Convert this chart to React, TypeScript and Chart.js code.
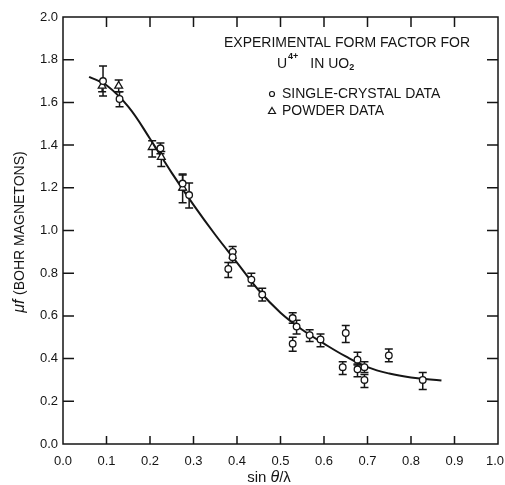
import React, { useEffect, useRef } from "react";
import { Chart, registerables } from "chart.js";

Chart.register(...registerables);

// ---- data ----
const curveX = [0.06, 0.1, 0.15, 0.2, 0.25, 0.3, 0.35, 0.4, 0.45, 0.5, 0.55, 0.6, 0.65, 0.7, 0.75, 0.8, 0.87];
const curveY = [1.72, 1.68, 1.58, 1.43, 1.27, 1.12, 0.98, 0.85, 0.72, 0.615, 0.535, 0.47, 0.41, 0.36, 0.33, 0.312, 0.297];

// single-crystal data (circles)
const crystalX = [0.092, 0.13, 0.224, 0.275, 0.29, 0.38, 0.39, 0.39, 0.433, 0.458, 0.528, 0.537, 0.528, 0.567, 0.592, 0.65, 0.643, 0.677, 0.677, 0.693, 0.693, 0.749, 0.827];
const crystalY = [1.7, 1.616, 1.385, 1.22, 1.166, 0.82, 0.9, 0.875, 0.77, 0.7, 0.59, 0.55, 0.47, 0.51, 0.49, 0.52, 0.36, 0.395, 0.35, 0.36, 0.3, 0.415, 0.3];
const crystalLo = [1.63, 1.58, 1.36, 1.19, 1.105, 0.78, 0.87, 0.85, 0.74, 0.67, 0.565, 0.515, 0.435, 0.48, 0.455, 0.475, 0.325, 0.37, 0.315, 0.335, 0.265, 0.385, 0.255];
const crystalHi = [1.77, 1.65, 1.41, 1.265, 1.222, 0.85, 0.925, 0.9, 0.8, 0.73, 0.615, 0.58, 0.5, 0.535, 0.515, 0.555, 0.385, 0.43, 0.375, 0.385, 0.325, 0.445, 0.335];

// powder data (triangles)
const powderX = [0.09, 0.128, 0.205, 0.226, 0.275];
const powderY = [1.677, 1.677, 1.39, 1.344, 1.2];
const powderLo = [1.65, 1.65, 1.344, 1.3, 1.13];
const powderHi = [1.7, 1.705, 1.42, 1.37, 1.26];

const xTicks = [0, 0.1, 0.2, 0.3, 0.4, 0.5, 0.6, 0.7, 0.8, 0.9, 1.0];
const yTicks = [0, 0.2, 0.4, 0.6, 0.8, 1.0, 1.2, 1.4, 1.6, 1.8, 2.0];

const INK = "#151515";
const FONT = "'Liberation Sans', Arial, sans-serif";

const errorBarPlugin = {
  id: "errorBars",
  beforeDatasetsDraw(chart: any) {
    const { ctx, scales } = chart;
    const xs = scales.x, ys = scales.y;
    ctx.save();
    ctx.strokeStyle = INK;
    ctx.lineWidth = 1.5;
    const draw = (X: number[], L: number[], H: number[]) => {
      for (let i = 0; i < X.length; i++) {
        const px = xs.getPixelForValue(X[i]);
        const pl = ys.getPixelForValue(L[i]);
        const ph = ys.getPixelForValue(H[i]);
        ctx.beginPath();
        ctx.moveTo(px, pl);
        ctx.lineTo(px, ph);
        ctx.moveTo(px - 4, pl);
        ctx.lineTo(px + 4, pl);
        ctx.moveTo(px - 4, ph);
        ctx.lineTo(px + 4, ph);
        ctx.stroke();
      }
    };
    draw(crystalX, crystalLo, crystalHi);
    draw(powderX, powderLo, powderHi);
    ctx.restore();
  },
};

const framePlugin = {
  id: "frame",
  beforeDraw(chart: any) {
    const { ctx } = chart;
    ctx.save();
    ctx.fillStyle = "#ffffff";
    ctx.fillRect(0, 0, chart.width, chart.height);
    ctx.restore();
  },
  afterDraw(chart: any) {
    const { ctx, chartArea: a, scales } = chart;
    ctx.save();
    ctx.strokeStyle = INK;
    ctx.lineWidth = 1.5;
    ctx.strokeRect(a.left, a.top, a.right - a.left, a.bottom - a.top);
    ctx.beginPath();
    scales.x.ticks.forEach((t: any) => {
      const px = scales.x.getPixelForValue(t.value);
      if (Math.abs(px - a.left) < 2 || Math.abs(px - a.right) < 2) return;
      ctx.moveTo(px, a.bottom);
      ctx.lineTo(px, a.bottom - 8);
      ctx.moveTo(px, a.top);
      ctx.lineTo(px, a.top + 10);
    });
    scales.y.ticks.forEach((t: any) => {
      const py = scales.y.getPixelForValue(t.value);
      if (Math.abs(py - a.top) < 2 || Math.abs(py - a.bottom) < 2) return;
      ctx.moveTo(a.left, py);
      ctx.lineTo(a.left + 11, py);
      ctx.moveTo(a.right, py);
      ctx.lineTo(a.right - 11, py);
    });
    ctx.stroke();

    ctx.fillStyle = INK;
    ctx.textBaseline = "middle";

    // x tick labels (drawn from the x scale, last one kept inside the canvas)
    ctx.font = `13px ${FONT}`;
    ctx.textAlign = "center";
    scales.x.ticks.forEach((t: any) => {
      const label = Number(t.value).toFixed(1);
      const w = ctx.measureText(label).width;
      let px = scales.x.getPixelForValue(t.value);
      if (px + w / 2 > chart.width - 1) px = chart.width - 1 - w / 2;
      ctx.fillText(label, px, a.bottom + 17);
    });

    // annotation text
    ctx.font = `14px ${FONT}`;
    ctx.textAlign = "center";
    ctx.fillText("EXPERIMENTAL FORM FACTOR FOR", 347, 43);
    ctx.textAlign = "left";
    let x = 277;
    ctx.fillText("U", x, 64);
    x += ctx.measureText("U").width + 1;
    ctx.font = `bold 9px ${FONT}`;
    ctx.fillText("4+", x, 57);
    x += ctx.measureText("4+").width + 12;
    ctx.font = `14px ${FONT}`;
    ctx.fillText("IN UO", x, 64);
    x += ctx.measureText("IN UO").width;
    ctx.font = `bold 9px ${FONT}`;
    ctx.fillText("2", x, 68);
    ctx.font = `14px ${FONT}`;
    ctx.fillText("SINGLE-CRYSTAL DATA", 282, 94);
    ctx.fillText("POWDER DATA", 282, 111);
    ctx.lineWidth = 1.2;
    ctx.beginPath();
    ctx.arc(272, 94, 2.5, 0, Math.PI * 2);
    ctx.stroke();
    ctx.beginPath();
    ctx.moveTo(272, 107.5);
    ctx.lineTo(275.5, 113.5);
    ctx.lineTo(268.5, 113.5);
    ctx.closePath();
    ctx.stroke();

    // x title: sin θ/λ
    ctx.font = `15px ${FONT}`;
    const p1 = "sin ";
    const p3 = "/λ";
    const w1 = ctx.measureText(p1).width;
    ctx.font = `italic 16px ${FONT}`;
    const w2 = ctx.measureText("θ").width;
    ctx.font = `15px ${FONT}`;
    const w3 = ctx.measureText(p3).width;
    let sx = 269 - (w1 + w2 + w3) / 2;
    ctx.fillText(p1, sx, 478);
    sx += w1;
    ctx.font = `italic 16px ${FONT}`;
    ctx.fillText("θ", sx, 478);
    sx += w2;
    ctx.font = `15px ${FONT}`;
    ctx.fillText(p3, sx, 478);

    // y title: μf (BOHR MAGNETONS)
    ctx.save();
    ctx.translate(20, 232);
    ctx.rotate(-Math.PI / 2);
    ctx.font = `italic 16px ${FONT}`;
    const m1 = ctx.measureText("μf ").width;
    ctx.font = `14px ${FONT}`;
    const m2 = ctx.measureText("(BOHR MAGNETONS)").width;
    let ty = -(m1 + m2) / 2;
    ctx.font = `italic 16px ${FONT}`;
    ctx.fillText("μf ", ty, 0);
    ty += m1;
    ctx.font = `14px ${FONT}`;
    ctx.fillText("(BOHR MAGNETONS)", ty, 0);
    ctx.restore();

    ctx.restore();
  },
};

export default function App() {
  const ref = useRef<HTMLCanvasElement | null>(null);
  useEffect(() => {
    if (!ref.current) return;
    const chart = new Chart(ref.current, {
      type: "scatter",
      data: {
        datasets: [
          {
            type: "line",
            label: "fit",
            data: curveX.map((v, i) => ({ x: v, y: curveY[i] })),
            borderColor: INK,
            borderWidth: 2,
            pointRadius: 0,
            tension: 0.4,
            fill: false,
            order: 3,
          } as any,
          {
            label: "POWDER DATA",
            data: powderX.map((v, i) => ({ x: v, y: powderY[i] })),
            pointStyle: "triangle",
            pointRadius: 4.5,
            borderColor: INK,
            borderWidth: 1.3,
            backgroundColor: "#ffffff",
            order: 2,
          },
          {
            label: "SINGLE-CRYSTAL DATA",
            data: crystalX.map((v, i) => ({ x: v, y: crystalY[i] })),
            pointStyle: "circle",
            pointRadius: 3.3,
            borderColor: INK,
            borderWidth: 1.3,
            backgroundColor: "#ffffff",
            order: 1,
          },
        ],
      },
      options: {
        animation: false,
        responsive: false,
        layout: { padding: { top: 17, right: 7, left: 0, bottom: 0 } },
        plugins: { legend: { display: false }, tooltip: { enabled: false } },
        scales: {
          x: {
            type: "linear",
            min: 0,
            max: 1,
            afterBuildTicks: (s: any) => {
              s.ticks = xTicks.map((v) => ({ value: v }));
            },
            afterFit: (s: any) => {
              s.height = 41;
              s.paddingLeft = 0;
              s.paddingRight = 0;
            },
            ticks: { display: false },
            grid: { display: false, drawTicks: false },
            border: { display: false },
          },
          y: {
            type: "linear",
            min: 0,
            max: 2,
            afterBuildTicks: (s: any) => {
              s.ticks = yTicks.map((v) => ({ value: v }));
            },
            afterFit: (s: any) => {
              s.width = 63;
              s.paddingTop = 0;
              s.paddingBottom = 0;
            },
            ticks: {
              color: INK,
              font: { family: FONT, size: 13 },
              padding: 5,
              callback: (v: any) => Number(v).toFixed(1),
            },
            grid: { display: false, drawTicks: false },
            border: { display: false },
          },
        },
      },
      plugins: [errorBarPlugin, framePlugin],
    });
    return () => chart.destroy();
  }, []);
  return (
    <div style={{ position: "fixed", left: 0, top: 0, width: 505, height: 485, background: "#fff" }}>
      <canvas ref={ref} width={505} height={485} style={{ display: "block" }} />
    </div>
  );
}
